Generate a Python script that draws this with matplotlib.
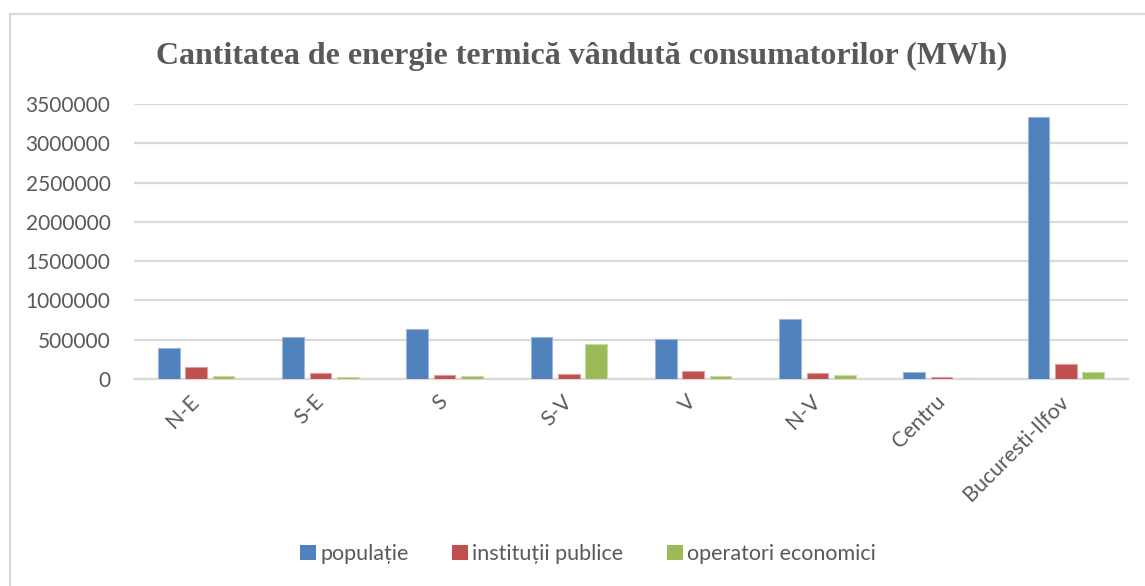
import matplotlib
matplotlib.use("Agg")
import matplotlib.pyplot as plt
import numpy as np
from matplotlib.patches import Patch
from matplotlib.lines import Line2D

categories = ["N-E", "S-E", "S", "S-V", "V", "N-V", "Centru", "Bucuresti-Ilfov"]
populatie = [390000, 538000, 636000, 530000, 505000, 763000, 93000, 3331000]
institutii = [149000, 76000, 47000, 67000, 106000, 80000, 29000, 195000]
operatori = [38000, 25000, 38000, 445000, 38000, 55000, 3000, 85000]
series_names = ["populație", "instituții publice", "operatori economici"]
yticks = [0, 500000, 1000000, 1500000, 2000000, 2500000, 3000000, 3500000]

colors = ["#4f81bd", "#c0504d", "#9bbb59"]
edges = ["#9db7dc", "#e0a09e", "#c7dba3"]
txt = "#595959"
grid = "#d9d9d9"

plt.rcParams['font.family'] = ['Lato', 'DejaVu Sans']

fig = plt.figure(figsize=(11.45, 5.86), dpi=100)
ax = fig.add_axes([134/1145, 1-379/586, (1128-134)/1145, (379-104)/586])

x = np.arange(len(categories))
w = 0.175
off = 0.221
for i, (vals, c, e) in enumerate(zip([populatie, institutii, operatori], colors, edges)):
    ax.bar(x + (i-1)*off, vals, width=w, color=c, edgecolor=e, linewidth=0.8, zorder=3)

ax.set_xlim(-0.5, len(categories)-0.5)
ax.set_ylim(0, 3500000)
ax.set_yticks(yticks)
ax.set_yticklabels([str(v) for v in yticks], fontsize=15, color=txt)
ax.yaxis.grid(True, color=grid, linewidth=1.6, zorder=0)
ax.set_axisbelow(True)
ax.tick_params(axis='y', length=0, pad=17)
ax.tick_params(axis='x', length=0, pad=14)
ax.set_xticks(x)
ax.set_xticklabels(categories, rotation=45, ha='right', va='center', rotation_mode='anchor',
                   fontsize=15.5, color=txt)
for s in ['top', 'right', 'left']:
    ax.spines[s].set_visible(False)
ax.spines['bottom'].set_color(grid)
ax.spines['bottom'].set_linewidth(1.6)

fig.text(0.508, 1-56/586, "Cantitatea de energie termică vândută consumatorilor (MWh)",
         ha='center', va='center', fontsize=23, fontweight='bold', color=txt,
         family=['Liberation Serif', 'DejaVu Serif'])

handles = [Patch(facecolor=c, edgecolor='none') for c in colors]
leg = fig.legend(handles, series_names, loc='center', bbox_to_anchor=(588/1145, 1-554/586),
                 ncol=3, frameon=False, fontsize=15.5, handlelength=0.75, handleheight=0.75,
                 handletextpad=0.2, columnspacing=2.0, labelcolor=txt)

# outer border
fig.add_artist(Line2D([10/1145, 1.0], [1-14/586, 1-14/586], transform=fig.transFigure, color=grid, lw=1.6))
fig.add_artist(Line2D([10/1145, 10/1145], [0, 1-14/586], transform=fig.transFigure, color=grid, lw=1.6))

fig.savefig("out.png", dpi=100)
